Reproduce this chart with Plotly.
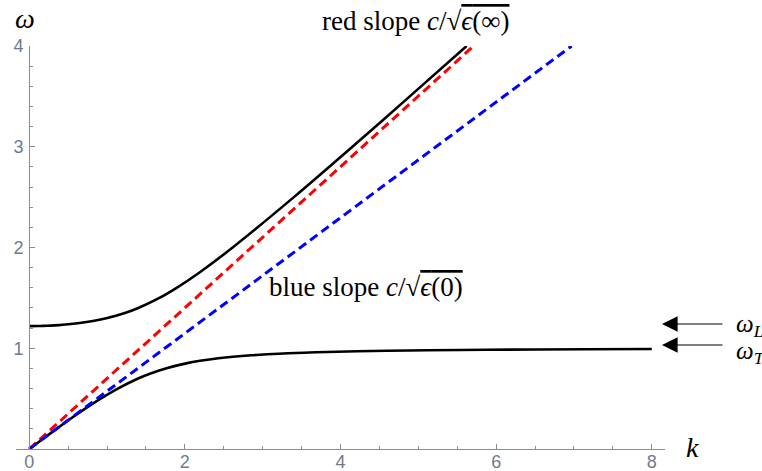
import plotly.graph_objects as go

# ---- data ----
# lower polariton branch (k, omega)
lower_k = [0, 0.175, 0.351, 0.531, 0.719, 0.918, 1.138, 1.399, 1.559, 1.754, 2.017, 2.195,
           2.43, 2.854, 3.061, 3.327, 3.687, 4.218, 4.597, 5.111, 5.87, 7.148, 8.0]
lower_w = [0, 0.1, 0.2, 0.3, 0.4, 0.5, 0.6, 0.7, 0.75, 0.8, 0.85, 0.875,
           0.9, 0.93, 0.94, 0.95, 0.96, 0.97, 0.975, 0.98, 0.985, 0.99, 0.992]
# upper polariton branch
upper_k = [0, 0.123, 0.174, 0.274, 0.384, 0.467, 0.648, 0.818, 1.004, 1.229, 1.402, 1.673,
           1.894, 2.184, 2.614, 3.401, 4.153, 4.89, 5.621]
upper_w = [1.22, 1.221, 1.222, 1.225, 1.23, 1.235, 1.25, 1.27, 1.3, 1.35, 1.4, 1.5,
           1.6, 1.75, 2.0, 2.5, 3.0, 3.5, 4.0]
# asymptotic light lines
red_k = [0, 5.71]
red_w = [0, 4.0]
blue_k = [0, 6.97]
blue_w = [0, 4.0]

x_ticks = [0, 2, 4, 6, 8]
y_ticks = [1, 2, 3, 4]

W, H = 762, 471
ml, mr, mt, mb = 16, 97, 46, 22
pw = W - ml - mr
ph = H - mt - mb


def px(xp):
    return (xp - ml) / pw


def py(yp):
    return (H - mb - yp) / ph


fig = go.Figure()
fig.add_trace(go.Scatter(x=upper_k, y=upper_w, mode="lines",
                         line=dict(color="black", width=2.6, shape="spline", smoothing=0.8),
                         hoverinfo="skip"))
fig.add_trace(go.Scatter(x=lower_k, y=lower_w, mode="lines",
                         line=dict(color="black", width=2.6, shape="spline", smoothing=0.8),
                         hoverinfo="skip"))
fig.add_trace(go.Scatter(x=red_k, y=red_w, mode="lines",
                         line=dict(color="#ff0000", width=3, dash="9px,5px"),
                         hoverinfo="skip"))
fig.add_trace(go.Scatter(x=blue_k, y=blue_w, mode="lines",
                         line=dict(color="#0000ff", width=3, dash="9px,5px"),
                         hoverinfo="skip"))

axis_col = "#8c8c8c"
tick_font = dict(family="Liberation Sans, Arial, sans-serif", size=18, color="#6e7b8f")

fig.update_layout(
    width=W, height=H,
    margin=dict(l=ml, r=mr, t=mt, b=mb, pad=0, autoexpand=False),
    paper_bgcolor="white", plot_bgcolor="white",
    showlegend=False,
    xaxis=dict(range=[-0.17, 8.17], showgrid=False, zeroline=False, automargin=False,
               showline=True, linecolor=axis_col, linewidth=1,
               tickmode="array", tickvals=x_ticks, ticks="inside", ticklen=5,
               tickcolor=axis_col, tickfont=tick_font, ticklabelstandoff=-4,
               minor=dict(tickmode="linear", tick0=0, dtick=0.5, ticks="inside",
                          ticklen=3, tickcolor=axis_col, showgrid=False)),
    yaxis=dict(range=[0, 4], showgrid=False, zeroline=False, automargin=False,
               anchor="free", position=px(29),
               showline=True, linecolor=axis_col, linewidth=1,
               tickmode="array", tickvals=y_ticks, ticks="inside", ticklen=5,
               tickcolor=axis_col, tickfont=tick_font, ticklabelstandoff=2,
               minor=dict(tickmode="linear", tick0=0, dtick=0.2, ticks="inside",
                          ticklen=3, tickcolor=axis_col, showgrid=False)),
)

serif = "Liberation Serif, Times New Roman, serif"
ann = []
ann.append(dict(xref="paper", yref="paper", x=px(415), y=py(21),
                text="red slope <i>c</i>/√<span style='text-decoration:overline'><i>ϵ</i>(∞)</span>",
                showarrow=False, font=dict(family=serif, size=27, color="black"),
                xanchor="center", yanchor="middle"))
ann.append(dict(xref="paper", yref="paper", x=px(366), y=py(287),
                text="blue slope <i>c</i>/√<span style='text-decoration:overline'><i>ϵ</i>(0)</span>",
                showarrow=False, font=dict(family=serif, size=27, color="black"),
                xanchor="center", yanchor="middle"))
ann.append(dict(xref="paper", yref="paper", x=px(25), y=py(19), text="<i>ω</i>",
                showarrow=False, font=dict(family=serif, size=28, color="black"),
                xanchor="center", yanchor="middle"))
ann.append(dict(xref="paper", yref="paper", x=px(692), y=py(447), text="<i>k</i>",
                showarrow=False, font=dict(family=serif, size=28, color="black"),
                xanchor="center", yanchor="middle"))
# arrows
for yp in (324, 345):
    ann.append(dict(xref="paper", yref="paper", x=px(662), y=py(yp), text="",
                    showarrow=True, arrowhead=2, arrowsize=2.6, arrowwidth=1.2,
                    arrowcolor="black", ax=62, ay=0))
ann.append(dict(xref="paper", yref="paper", x=px(734), y=py(325), text="<i>ω</i><sub><i>L</i></sub>",
                showarrow=False, font=dict(family=serif, size=25, color="black"),
                xanchor="left", yanchor="middle"))
ann.append(dict(xref="paper", yref="paper", x=px(734), y=py(352), text="<i>ω</i><sub><i>T</i></sub>",
                showarrow=False, font=dict(family=serif, size=25, color="black"),
                xanchor="left", yanchor="middle"))
fig.update_layout(annotations=ann)

fig.write_html("out.html")
